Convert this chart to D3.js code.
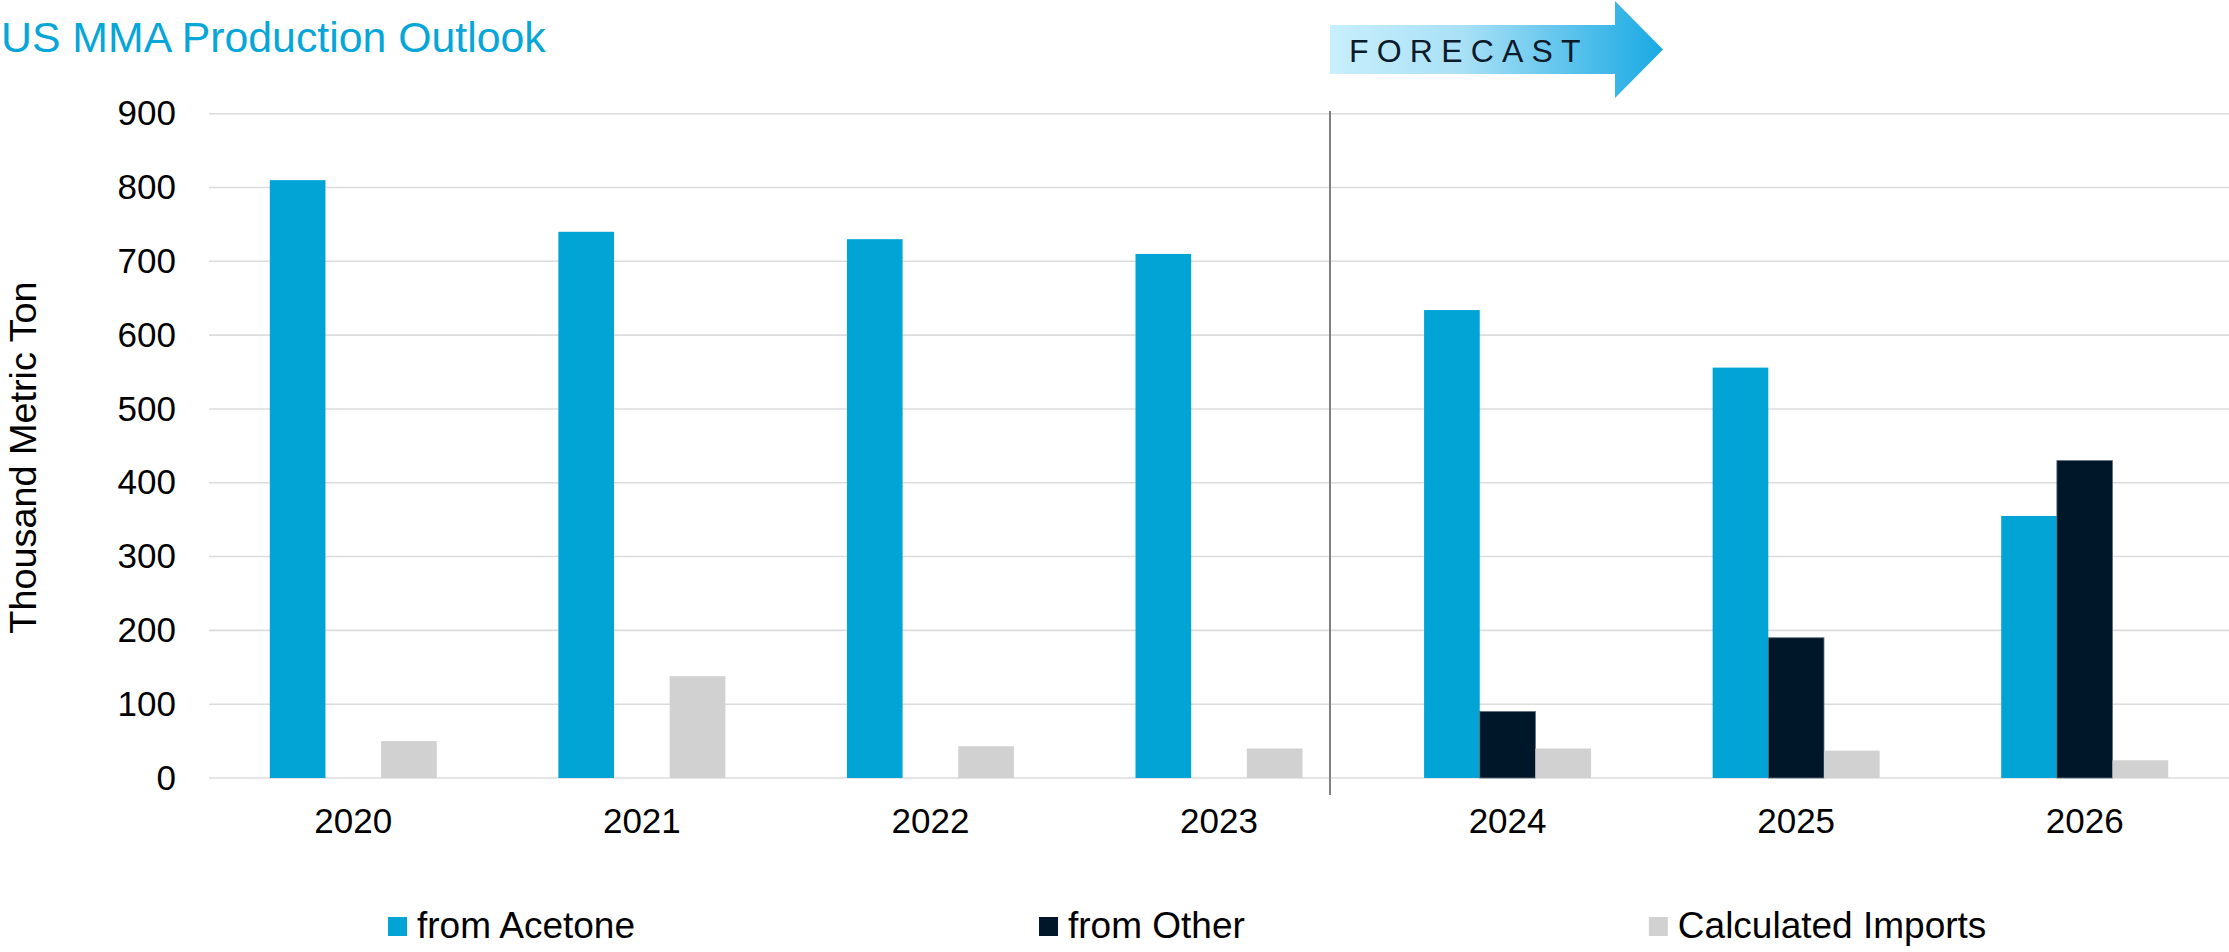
<!DOCTYPE html>
<html>
<head>
<meta charset="utf-8">
<script src="https://cdn.jsdelivr.net/npm/d3@7"></script>
<style>
  html, body { margin: 0; padding: 0; background: #fff; }
  svg { display: block; font-family: "Liberation Sans", Arial, sans-serif; }
</style>
</head>
<body>
<svg id="chart" width="2229" height="952"></svg>
<script>
// ---- data ----
const years = ["2020", "2021", "2022", "2023", "2024", "2025", "2026"];
const fromAcetone = [810, 740, 730, 710, 634, 556, 355];
const fromOther = [0, 0, 0, 0, 90, 190, 430];
const calculatedImports = [50, 138, 43, 40, 40, 37, 24];
const seriesNames = ["from Acetone", "from Other", "Calculated Imports"];
const yTicks = [0, 100, 200, 300, 400, 500, 600, 700, 800, 900];
const titleText = "US MMA Production Outlook";
const yTitle = "Thousand Metric Ton";
const forecastLabel = "FORECAST";

// ---- layout ----
const plot = { left: 209, right: 2229, top: 113.7, bottom: 778 };
const colors = ["#02A4D6", "#001729", "#D0D1D0"];
const seriesValues = [fromAcetone, fromOther, calculatedImports];

const svg = d3.select("#chart");

const x0 = d3.scaleBand().domain(years).range([plot.left, plot.right])
  .paddingInner(0.4213).paddingOuter(0.4213 / 2);
const x1 = d3.scaleBand().domain(seriesNames).range([0, x0.bandwidth()]).padding(0);
const y = d3.scaleLinear().domain([0, 900]).range([plot.bottom, plot.top]);

// gridlines
svg.append("g").selectAll("line").data(yTicks).join("line")
  .attr("x1", plot.left).attr("x2", plot.right)
  .attr("y1", d => y(d)).attr("y2", d => y(d))
  .attr("stroke", "#DCDCDC").attr("stroke-width", 1.6);

// y axis labels
const yAxis = d3.axisLeft(y).tickValues(yTicks).tickSize(0).tickPadding(0);
const gy = svg.append("g").attr("transform", `translate(176,0)`).call(yAxis);
gy.select(".domain").remove();
gy.selectAll("text").attr("font-size", 35).attr("fill", "#000")
  .attr("font-family", "Liberation Sans, Arial, sans-serif");

// bars
const groups = svg.append("g").selectAll("g").data(years).join("g")
  .attr("transform", d => `translate(${x0(d)},0)`);
groups.selectAll("rect")
  .data((yr, i) => seriesNames.map((s, k) => ({ s, k, v: seriesValues[k][i] })).filter(d => d.v > 0))
  .join("rect")
  .attr("x", d => x1(d.s))
  .attr("width", x1.bandwidth())
  .attr("y", d => y(d.v))
  .attr("height", d => y(0) - y(d.v))
  .attr("fill", d => colors[d.k])
  .attr("stroke", d => d.k === 1 ? "#5E6B78" : "none")
  .attr("stroke-width", d => d.k === 1 ? 0.8 : 0);

// x axis labels
const xAxis = d3.axisBottom(x0).tickSize(0).tickPadding(0);
const gx = svg.append("g").attr("transform", `translate(0,${plot.bottom + 30})`).call(xAxis);
gx.select(".domain").remove();
gx.selectAll("text").attr("font-size", 35).attr("fill", "#000")
  .attr("font-family", "Liberation Sans, Arial, sans-serif");

// forecast separator
const sepX = 1330;
svg.append("line").attr("x1", sepX).attr("x2", sepX).attr("y1", 111).attr("y2", 795)
  .attr("stroke", "#808080").attr("stroke-width", 2);

// forecast arrow
const defs = svg.append("defs");
const grad = defs.append("linearGradient").attr("id", "fgrad")
  .attr("x1", "0%").attr("x2", "100%").attr("y1", "0%").attr("y2", "0%");
grad.append("stop").attr("offset", "0%").attr("stop-color", "#C8EFFC");
grad.append("stop").attr("offset", "40%").attr("stop-color", "#A9E0F6");
grad.append("stop").attr("offset", "100%").attr("stop-color", "#18A9E3");
const ax = sepX, bodyEnd = 1615, tip = 1663;
svg.append("path")
  .attr("d", `M${ax},25 L${bodyEnd},25 L${bodyEnd},1 L${tip},49.5 L${bodyEnd},98 L${bodyEnd},74 L${ax},74 Z`)
  .attr("fill", "url(#fgrad)");
svg.append("text").attr("x", 1349).attr("y", 61.5)
  .attr("font-size", 32).attr("letter-spacing", "8.2px").attr("fill", "#0C1B2B")
  .text(forecastLabel);

// title
svg.append("text").attr("x", 1).attr("y", 52).attr("font-size", 42.8)
  .attr("fill", "#07A6D8").text(titleText);

// y title
svg.append("text").attr("transform", "translate(36,457.5) rotate(-90)")
  .attr("text-anchor", "middle").attr("font-size", 37.8).attr("fill", "#000")
  .text(yTitle);

// legend
const legend = svg.append("g");
let lx = 388;
seriesNames.forEach((name, k) => {
  legend.append("rect").attr("x", lx).attr("y", 917).attr("width", 19).attr("height", 19)
    .attr("fill", colors[k]);
  const t = legend.append("text").attr("x", lx + 29).attr("y", 937.5)
    .attr("font-size", 37).attr("fill", "#000").text(name);
  const w = t.node().getComputedTextLength();
  lx = lx + 29 + w + 404;
});
</script>
</body>
</html>
